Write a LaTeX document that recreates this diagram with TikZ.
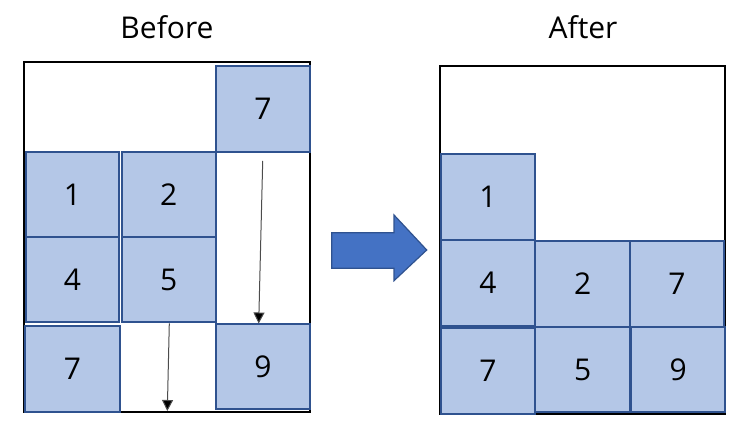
\documentclass[tikz,border=0pt]{standalone}
\usepackage{fontspec}
\setmainfont{Open Sans}
\usetikzlibrary{arrows.meta}
\definecolor{boxfill}{HTML}{B4C7E7}
\definecolor{boxline}{HTML}{2F528F}
\definecolor{bigarrow}{HTML}{4472C4}
\begin{document}
\begin{tikzpicture}[x=1pt,y=-1pt,
  cell/.style={draw=boxline,fill=boxfill,line width=2pt,inner sep=0pt},
  celltext/.style={font=\fontsize{30}{36}\selectfont},
  frame/.style={draw=black,line width=2pt},
  title/.style={font=\fontsize{30}{36}\selectfont},
  dropline/.style={draw=black!70,line width=1pt,-{Triangle[length=11pt,width=11pt,fill=black]}}]
\useasboundingbox (0,0) rectangle (746,430);
% titles
\node[title] (tb) at (167,27) {Before};
\node[title] (ta) at (583,27) {After};
% frames
\draw[frame] (24,62.5) rectangle (310,411.5);
\draw[frame] (439.5,65.7) rectangle (725.3,414.2);
% left boxes
\node[cell,celltext,minimum width=94.3pt,minimum height=86pt] (l7a) at (262.9,108.7) {7};
\node[cell,celltext,minimum width=93.6pt,minimum height=85.3pt] (l1) at (72.5,194.3) {1};
\node[cell,celltext,minimum width=94pt,minimum height=85.3pt] (l2) at (168.7,194.3) {2};
\node[cell,celltext,minimum width=93.6pt,minimum height=85.3pt] (l4) at (72.5,279.6) {4};
\node[cell,celltext,minimum width=94pt,minimum height=85.3pt] (l5) at (168.7,279.6) {5};
\node[cell,celltext,minimum width=95pt,minimum height=86pt] (l7b) at (72.5,368.7) {7};
\node[cell,celltext,minimum width=94.3pt,minimum height=84.7pt] (l9) at (262.9,366.7) {9};
% drop arrows
\coordinate (s1) at (262.7,161);
\coordinate (e1) at (258.7,323.5);
\coordinate (e2) at (167.3,411);
\draw[dropline] (s1) -- (e1);
\draw[dropline] (169.3,323.3) -- (e2);
% big arrow
\draw[draw=boxline,fill=bigarrow,line width=1.2pt]
  (331.7,232.7) -- (394,232.7) -- (394,215) -- (426.7,250) -- (394,280.7) -- (394,268.3) -- (331.7,268.3) -- cycle;
% right boxes
\node[cell,celltext,minimum width=94.6pt,minimum height=86.3pt] (r1) at (488,196.9) {1};
\node[cell,celltext,minimum width=94.6pt,minimum height=85.7pt] (r4) at (488,282.9) {4};
\node[cell,celltext,minimum width=94.6pt,minimum height=86pt] (r7a) at (488,370.7) {7};
\node[cell,celltext,minimum width=94.7pt,minimum height=85.7pt] (r2) at (582.7,283.9) {2};
\node[cell,celltext,minimum width=94pt,minimum height=85.7pt] (r7b) at (677,283.9) {7};
\node[cell,celltext,minimum width=94.7pt,minimum height=85.6pt] (r5) at (582.7,369.5) {5};
\node[cell,celltext,minimum width=94pt,minimum height=85.6pt] (r9) at (678.3,369.5) {9};
\end{tikzpicture}
\end{document}
